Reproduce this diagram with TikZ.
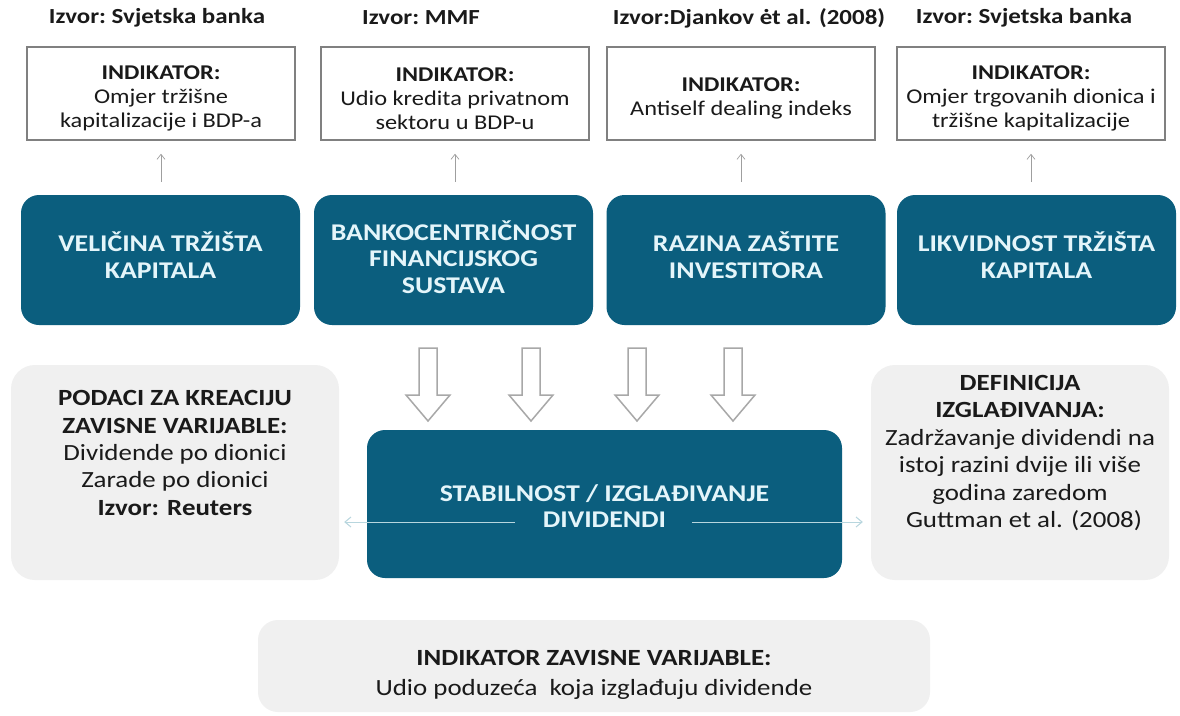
\documentclass[tikz,border=0pt]{standalone}
\usepackage{fontspec}
\setmainfont{Carlito}[FakeStretch=1.16]
\usetikzlibrary{arrows.meta}
\definecolor{dblue}{HTML}{0B5E7E}
\definecolor{ltext}{HTML}{E4F5FA}
\definecolor{boxgray}{HTML}{808080}
\definecolor{lgray}{HTML}{F0F0F0}
\definecolor{arrgray}{HTML}{A8A8A8}
\definecolor{linec}{HTML}{B8D6DE}
\definecolor{txt}{HTML}{1A1A1A}
\begin{document}
\begin{tikzpicture}[x=1pt,y=-1pt,
  src/.style={font=\fontsize{21.5}{24}\selectfont\bfseries, text=txt, inner sep=0pt},
  ind/.style={draw=boxgray, line width=1.6pt, minimum width=268pt, minimum height=93pt, inner sep=0pt},
  indl/.style={align=center, text=txt, font=\fontsize{21}{24}\selectfont, inner sep=0pt, yshift=-5pt},
  fac/.style={fill=dblue, rounded corners=18pt, minimum width=279pt, minimum height=130pt, inner sep=0pt},
  facl/.style={align=center, text=ltext, font=\fontsize{24}{26.5}\selectfont\bfseries, inner sep=0pt, yshift=5pt},
  side/.style={fill=lgray, rounded corners=24pt, inner sep=0pt},
  sidetext/.style={align=center, text=txt, font=\fontsize{23.2}{27.4}\selectfont, inner sep=0pt},
  thinarr/.style={draw=gray!75, line width=0.7pt, -{Straight Barb[length=5pt,width=8pt]}},
  holl/.style={draw=arrgray, fill=white, line width=1.5pt, line join=miter},
  sideline/.style={draw=linec, line width=1pt, -{Straight Barb[length=6pt,width=10pt]}}
]
\useasboundingbox[fill=white] (0,0) rectangle (1180,715);

% sources
\node[src] (s1) at (157,18) {Izvor:\ Svjetska banka};
\node[src] (s2) at (421,18) {Izvor:\ MMF};
\node[src] (s3) at (749,18) {Izvor:Djankov ėt al. (2008)};
\node[src] (s4) at (1024,18) {Izvor:\ Svjetska banka};

% indicator boxes
\node[ind, label={[indl]center:{\textbf{INDIKATOR:}\\Omjer tržišne\\kapitalizacije i BDP-a}}] (t1) at (161,93.5) {};
\node[ind, label={[indl]center:{\textbf{INDIKATOR:}\\Udio kredita privatnom\\sektoru u BDP-u}}] (t2) at (455,93.5) {};
\node[ind, label={[indl]center:{\textbf{INDIKATOR:}\\Antiself dealing indeks}}] (t3) at (741,93.5) {};
\node[ind, label={[indl]center:{\textbf{INDIKATOR:}\\Omjer trgovanih dionica i\\tržišne kapitalizacije}}] (t4) at (1031,93.5) {};

% factor boxes
\node[fac, label={[facl]center:{VELIČINA TRŽIŠTA\\KAPITALA}}] (b1) at (160.5,260) {};
\node[fac, label={[facl, yshift=-2pt]center:{BANKOCENTRIČNOST\\FINANCIJSKOG\\SUSTAVA}}] (b2) at (453.5,260) {};
\node[fac, label={[facl]center:{RAZINA ZAŠTITE\\INVESTITORA}}] (b3) at (746,260) {};
\node[fac, label={[facl]center:{LIKVIDNOST TRŽIŠTA\\KAPITALA}}] (b4) at (1036.5,260) {};

\foreach \i in {1,2,3,4}{
  \draw[thinarr] ([yshift=13pt]t\i.south |- b\i.north) -- ([yshift=-13pt]t\i.south);
}

% hollow arrows
\foreach \x in {428,531,637,733}{
  \draw[holl] (\x-9,348) -- (\x+9,348) -- (\x+9,395) -- (\x+22,395) -- (\x,421)
    -- (\x-22,395) -- (\x-9,395) -- cycle;
}

% side boxes
\node[side, minimum width=328pt, minimum height=215pt] (lbox) at (175,472.5) {};
\node[sidetext] (ltx) at (175,453) {\textbf{PODACI ZA KREACIJU}\\\textbf{ZAVISNE VARIJABLE:}\\Dividende po dionici\\Zarade po dionici\\\textbf{Izvor: Reuters}};
\node[side, minimum width=298pt, minimum height=215pt] (rbox) at (1020,472.5) {};
\node[sidetext] (rtx) at (1020,453) {\textbf{DEFINICIJA}\\\textbf{IZGLAĐIVANJA:}\\Zadržavanje dividendi na\\istoj razini dvije ili više\\godina zaredom\\\hspace*{8pt}Guttman et al. (2008)};

% central box
\node[fac, minimum width=475pt, minimum height=148pt,
  label={[facl, yshift=-7pt]center:{STABILNOST / IZGLAĐIVANJE\\DIVIDENDI}}] (c) at (604.5,504) {};

\coordinate (cl) at (515,522);
\coordinate (cr) at (692,522);
\draw[sideline, shorten >=5pt] (cl) -- (cl -| lbox.east);
\draw[sideline, shorten >=8pt] (cr) -- (cr -| rbox.west);

% bottom box
\node[side, rounded corners=20pt, minimum width=672pt, minimum height=92pt] (bbox) at (594,666) {};
\node[sidetext, font=\fontsize{23.2}{30}\selectfont] (btx) at (594,675) {\textbf{INDIKATOR ZAVISNE VARIJABLE:}\\Udio poduzeća\ \ koja izglađuju dividende};
\end{tikzpicture}
\end{document}
